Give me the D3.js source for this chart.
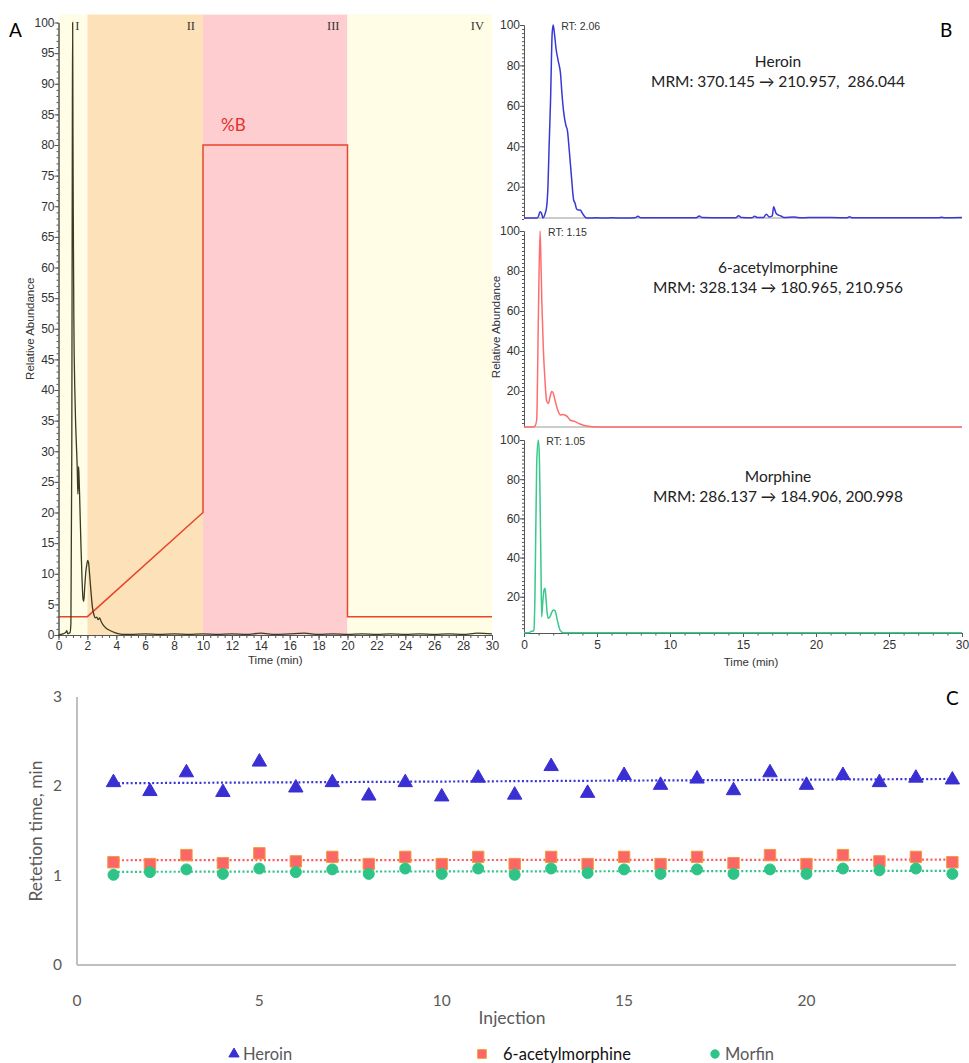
<!DOCTYPE html>
<html>
<head>
<meta charset="utf-8">
<script src="https://cdn.jsdelivr.net/npm/d3@7"></script>
<style>
  body { margin: 0; background: #fff; }
  svg { display: block; }
</style>
</head>
<body>
<div id="chart"></div>
<script>
// ---- panel A : total ion chromatogram + gradient ----
const timeA = [0,0.3,0.5,0.57,0.65,0.8,0.86,0.92,0.96,0.98,1.0,1.02,1.04,1.06,1.09,1.13,1.18,1.24,1.3,1.34,1.37,1.39,1.42,1.47,1.55,1.63,1.7,1.75,1.82,1.9,1.96,2.02,2.08,2.15,2.25,2.35,2.45,2.55,2.65,2.75,2.85,2.95,3.1,3.3,3.6,3.9,4.2,4.6,5,6,7,8,9,10,11,12,13,14,15,16,17,18,19,20,21,22,23,24,25,26,27,28,29,30];
const abundA = [0,0.2,0.4,0.7,0.2,0.4,2,30,85,100,82,70,61,52,45,40,35,31,27,23,25,27.5,26,22,15,9,5.8,5.5,8,10.5,11.5,12.2,11.8,10,7,4.5,3.3,2.8,2.9,2.5,2.8,2.2,1.6,1.1,0.7,0.4,0.2,0.1,0.1,0.2,0.1,0.2,0.1,0.2,0.1,0.2,0.1,0.3,0.1,0.2,0.3,0.1,0.2,0.1,0.2,0.1,0.2,0.1,0.2,0.1,0.2,0.1,0.3,0.2];
const gradT = [0, 2, 10, 10, 20, 20, 30];
const gradB = [3, 3, 20, 80, 80, 3, 3];
const regions = ["I", "II", "III", "IV"];
const regionStart = [0, 2, 10, 20];
const regionEnd = [2, 10, 20, 30];
const regionColors = ["#fffde6", "#fde1b9", "#fdcdcf", "#fffde6"];

// ---- panel B : MRM chromatograms ----
const heroinT = [0,0.9,1.0,1.1,1.2,1.3,1.45,1.55,1.64,1.72,1.82,1.93,2.0,2.08,2.2,2.35,2.5,2.6,2.7,2.88,2.97,3.1,3.25,3.4,3.5,3.6,3.7,3.85,4.0,
  4.3,5,5.5,6,7,7.6,7.8,8.0,10,11.8,12.0,12.2,13.5,14.5,14.7,14.9,15.6,15.8,16.0,16.4,16.6,16.8,17.0,17.1,17.25,17.4,17.6,17.8,18.5,19,20,22.1,22.3,22.5,25,28.4,28.6,28.8,30];
const heroinV = [4.5,4.5,5.5,7.6,6.8,4.5,6.8,10,20,40,63,96,100,96,88,82,76,66,58,50,48,38,25,13.4,11.8,9,8.5,8.5,6.8,
  4.5,4.6,4.5,4.6,4.5,4.6,5.4,4.6,4.6,4.6,5.5,4.7,4.6,4.6,5.6,4.7,4.6,5.4,4.7,4.7,6.3,5,5.5,10.1,7,6,5.5,4.8,5.0,4.6,4.8,4.6,5.1,4.6,4.6,4.6,4.9,4.6,4.7];
const acetylT = [0,0.6,0.75,0.87,0.98,1.1,1.16,1.22,1.32,1.44,1.55,1.67,1.78,1.9,2.0,2.12,2.35,2.5,2.65,2.8,2.97,3.15,3.5,3.84,4.3,5,30];
const acetylV = [2,2,2.5,5.5,55,100,85,65,42,25,15,13.8,17,19.7,19,15.5,9.7,8,8.3,8,7.2,5.5,4.7,3.5,2.5,2,2];
const morphT = [0,0.35,0.5,0.6,0.68,0.75,0.87,0.98,1.05,1.1,1.16,1.21,1.28,1.37,1.44,1.5,1.58,1.67,1.78,1.9,2.01,2.12,2.28,2.47,2.69,30];
const morphV = [1.6,1.6,2.4,2.4,3,20,88,100,92,70,37,9.8,16.7,23.4,24.3,20,12,9,9.8,12,13.2,12.9,8.1,3,1.65,1.6];
const mrmNames = ["Heroin", "6-acetylmorphine", "Morphine"];
const mrmLabels = ["MRM: 370.145 \u2192 210.957,\u00a0 286.044", "MRM: 328.134 \u2192 180.965, 210.956", "MRM: 286.137 \u2192 184.906, 200.998"];
const rtLabels = ["RT: 2.06", "RT: 1.15", "RT: 1.05"];

// ---- panel C : retention time repeatability ----
const injections = d3.range(1, 25);
const heroinRT = [2.06,1.96,2.17,1.95,2.29,2.00,2.06,1.91,2.06,1.90,2.11,1.92,2.24,1.94,2.14,2.03,2.10,1.97,2.17,2.03,2.14,2.06,2.11,2.09];
const acetylRT = [1.15,1.13,1.23,1.14,1.25,1.16,1.21,1.13,1.21,1.13,1.21,1.13,1.21,1.13,1.21,1.13,1.21,1.14,1.23,1.13,1.23,1.16,1.21,1.15];
const morphRT  = [1.01,1.04,1.07,1.02,1.08,1.04,1.07,1.02,1.08,1.02,1.08,1.01,1.08,1.03,1.07,1.02,1.07,1.02,1.07,1.02,1.08,1.06,1.08,1.02];
const seriesNames = ["Heroin", "6-acetylmorphine", "Morfin"];

const width = 969, height = 1063;
const svg = d3.select("#chart").append("svg")
  .attr("width", width)
  .attr("height", height);

const arial = "'Liberation Sans', Arial, sans-serif";
const calibri = "Lato, 'Open Sans', sans-serif";

function styleAxis(g, size) {
  g.attr("font-family", arial).attr("font-size", size);
  g.selectAll("text").attr("fill", "#333");
  g.selectAll("line, path").attr("stroke", "#555");
}

// ================= A =================
const xA = d3.scaleLinear().domain([0, 30]).range([58.5, 492]);
const yA = d3.scaleLinear().domain([0, 100]).range([635, 22.5]);
const gA = svg.append("g");

gA.selectAll(".band")
  .data(regions)
  .enter().append("rect")
  .attr("class", "band")
  .attr("x", (d, i) => xA(regionStart[i]))
  .attr("width", (d, i) => xA(regionEnd[i]) - xA(regionStart[i]))
  .attr("y", yA(101.3))
  .attr("height", yA(0) - yA(101.3))
  .attr("fill", (d, i) => regionColors[i]);

gA.selectAll(".roman")
  .data(regions)
  .enter().append("text")
  .attr("class", "roman")
  .attr("x", (d, i) => xA(regionEnd[i]) - 8)
  .attr("y", yA(100) + 7)
  .attr("text-anchor", "end")
  .attr("font-family", "'Liberation Serif', 'DejaVu Serif', serif")
  .attr("font-size", 12.5)
  .attr("fill", "#333")
  .text(d => d);

// gradient %B
gA.append("path")
  .datum(d3.zip(gradT, gradB))
  .attr("fill", "none")
  .attr("stroke", "#e8452c")
  .attr("stroke-width", 1.5)
  .attr("d", d3.line().x(d => xA(d[0])).y(d => yA(d[1])));

gA.append("text")
  .attr("x", xA(12.1))
  .attr("y", yA(82.3))
  .attr("text-anchor", "middle")
  .attr("font-family", calibri)
  .attr("font-size", 17)
  .attr("fill", "#e3302c")
  .text("%B");

// axes A
let ax = gA.append("g").attr("transform", `translate(${xA(0)},0)`)
  .call(d3.axisLeft(yA).tickValues(d3.range(0, 101, 1)).tickSize(2).tickSizeOuter(0).tickFormat(""));
styleAxis(ax, 12);
ax = gA.append("g").attr("transform", `translate(${xA(0)},0)`)
  .call(d3.axisLeft(yA).tickValues(d3.range(0, 101, 5)).tickSize(4).tickSizeOuter(0).tickPadding(0));
styleAxis(ax, 12);
ax = gA.append("g").attr("transform", `translate(0,${yA(0)})`)
  .call(d3.axisBottom(xA).tickValues(d3.range(0, 30.1, 0.5)).tickSize(3).tickSizeOuter(0).tickFormat(""));
styleAxis(ax, 12);
ax = gA.append("g").attr("transform", `translate(0,${yA(0)})`)
  .call(d3.axisBottom(xA).tickValues(d3.range(0, 31, 2)).tickSize(5).tickSizeOuter(0).tickPadding(1));
styleAxis(ax, 12);

// chromatogram trace
gA.append("path")
  .datum(d3.zip(timeA, abundA))
  .attr("fill", "none")
  .attr("stroke", "#3b3b1f")
  .attr("stroke-width", 1.3)
  .attr("d", d3.line().x(d => xA(d[0])).y(d => yA(d[1])).curve(d3.curveMonotoneX));

gA.append("text")
  .attr("transform", `translate(34,${(yA(0) + yA(100)) / 2}) rotate(-90)`)
  .attr("text-anchor", "middle")
  .attr("font-family", arial).attr("font-size", 11.5).attr("fill", "#333")
  .text("Relative Abundance");
gA.append("text")
  .attr("x", (xA(0) + xA(30)) / 2)
  .attr("y", 664)
  .attr("text-anchor", "middle")
  .attr("font-family", arial).attr("font-size", 11.5).attr("fill", "#333")
  .text("Time (min)");

svg.append("text").attr("x", 9).attr("y", 37)
  .attr("font-family", calibri).attr("font-size", 19).text("A");

// ================= B =================
const xB = d3.scaleLinear().domain([0, 30]).range([524, 962]);
const traces = [[heroinT, heroinV], [acetylT, acetylV], [morphT, morphV]];
const traceColors = ["#3838d6", "#ff6e6e", "#38c98b"];
const panelTop = [25, 231, 440];
const panelBase = [218, 427, 633];
const panelMin = [4.5, 2, 1.5];

traces.forEach(function (tr, k) {
  const y = d3.scaleLinear().domain([panelMin[k], 100]).range([panelBase[k], panelTop[k]]);
  const g = svg.append("g");

  let a = g.append("g").attr("transform", `translate(${xB(0)},0)`)
    .call(d3.axisLeft(y).tickValues(d3.range(4, 101, 2)).tickSize(2).tickSizeOuter(0).tickFormat(""));
  styleAxis(a, 12);
  a = g.append("g").attr("transform", `translate(${xB(0)},0)`)
    .call(d3.axisLeft(y).tickValues([20, 40, 60, 80, 100]).tickSize(4).tickSizeOuter(0).tickPadding(0));
  styleAxis(a, 12);

  if (k === 2) {
    a = g.append("g").attr("transform", `translate(0,${panelBase[k]})`)
      .call(d3.axisBottom(xB).tickValues(d3.range(0, 31, 1)).tickSize(2.5).tickSizeOuter(0).tickFormat(""));
    styleAxis(a, 12);
    a = g.append("g").attr("transform", `translate(0,${panelBase[k]})`)
      .call(d3.axisBottom(xB).tickValues(d3.range(0, 31, 5)).tickSize(4).tickSizeOuter(0).tickPadding(3));
    styleAxis(a, 12);
  } else {
    g.append("line")
      .attr("x1", xB(0)).attr("x2", xB(30))
      .attr("y1", panelBase[k]).attr("y2", panelBase[k])
      .attr("stroke", "#999").attr("stroke-width", 1.2);
  }

  const pts = d3.zip(tr[0], tr[1]);
  g.append("path")
    .datum(pts)
    .attr("fill", "none")
    .attr("stroke", traceColors[k])
    .attr("stroke-width", 1.5)
    .attr("d", d3.line().x(d => xB(d[0])).y(d => y(d[1])).curve(d3.curveMonotoneX));

  const peak = pts[d3.maxIndex(tr[1])];
  g.append("text")
    .attr("x", xB(peak[0]) + 8)
    .attr("y", y(100) + 5)
    .attr("font-family", arial).attr("font-size", 10.5).attr("fill", "#333")
    .text(rtLabels[k]);

  g.append("text")
    .attr("x", 778).attr("y", panelTop[k] + 42)
    .attr("text-anchor", "middle")
    .attr("font-family", calibri).attr("font-size", 15.5).attr("fill", "#222")
    .text(mrmNames[k]);
  g.append("text")
    .attr("x", 778).attr("y", panelTop[k] + 62)
    .attr("text-anchor", "middle")
    .attr("font-family", calibri).attr("font-size", 15.5).attr("fill", "#222")
    .text(mrmLabels[k]);
});

svg.append("text")
  .attr("transform", "translate(500,327) rotate(-90)")
  .attr("text-anchor", "middle")
  .attr("font-family", arial).attr("font-size", 11.5).attr("fill", "#333")
  .text("Relative Abundance");
svg.append("text")
  .attr("x", 751).attr("y", 666)
  .attr("text-anchor", "middle")
  .attr("font-family", arial).attr("font-size", 11.5).attr("fill", "#333")
  .text("Time (min)");
svg.append("text").attr("x", 940).attr("y", 37)
  .attr("font-family", calibri).attr("font-size", 19).text("B");

// ================= C =================
const xC = d3.scaleLinear().domain([0, 24.1]).range([77, 956]);
const yC = d3.scaleLinear().domain([0, 3]).range([965, 697]);
const gC = svg.append("g");
const grey = "#595959";

gC.append("line").attr("x1", xC(0)).attr("x2", xC(0)).attr("y1", yC(0)).attr("y2", yC(3))
  .attr("stroke", "#bfbfbf").attr("stroke-width", 2);
gC.append("line").attr("x1", xC(0)).attr("x2", xC(24.1)).attr("y1", yC(0)).attr("y2", yC(0))
  .attr("stroke", "#bfbfbf").attr("stroke-width", 2);

gC.selectAll(".ytick").data([0, 1, 2, 3]).enter().append("text")
  .attr("x", 62).attr("y", d => yC(d) + 5)
  .attr("text-anchor", "end")
  .attr("font-family", calibri).attr("font-size", 15.5).attr("fill", grey)
  .text(d => d);
gC.selectAll(".xtick").data([0, 5, 10, 15, 20]).enter().append("text")
  .attr("x", d => xC(d)).attr("y", 1006)
  .attr("text-anchor", "middle")
  .attr("font-family", calibri).attr("font-size", 15.5).attr("fill", grey)
  .text(d => d);

gC.append("text")
  .attr("transform", `translate(42,${yC(1.5)}) rotate(-90)`)
  .attr("text-anchor", "middle")
  .attr("font-family", calibri).attr("font-size", 17.5).attr("fill", grey)
  .text("Retetion time, min");
gC.append("text")
  .attr("x", 512).attr("y", 1024)
  .attr("text-anchor", "middle")
  .attr("font-family", calibri).attr("font-size", 17.5).attr("fill", grey)
  .text("Injection");

const rtSeries = [heroinRT, acetylRT, morphRT];
const markFill = ["#3a2fd3", "#fb6766", "#2fc487"];
const markStroke = ["#3a2fd3", "#f59a3a", "#2fc487"];
const trendColor = ["#3d35d8", "#ff5a5a", "#2fc487"];
const symbols = [d3.symbolTriangle, d3.symbolSquare, d3.symbolCircle];
const symSize = [90, 130, 95];

function trend(xs, ys) {
  const mx = d3.mean(xs), my = d3.mean(ys);
  const b = d3.sum(xs, (x, i) => (x - mx) * (ys[i] - my)) / d3.sum(xs, x => (x - mx) * (x - mx));
  return x => my + b * (x - mx);
}

rtSeries.forEach(function (vals, k) {
  const f = trend(injections, vals);
  const ends = d3.extent(injections);
  gC.append("line")
    .attr("x1", xC(ends[0])).attr("x2", xC(ends[1]))
    .attr("y1", yC(f(ends[0]))).attr("y2", yC(f(ends[1])))
    .attr("stroke", trendColor[k])
    .attr("stroke-width", 2.2)
    .attr("stroke-dasharray", "2,2.3");
});

rtSeries.forEach(function (vals, k) {
  gC.selectAll(".m" + k)
    .data(vals)
    .enter().append("path")
    .attr("class", "m" + k)
    .attr("transform", (d, i) => `translate(${xC(injections[i])},${yC(d) + (k === 0 ? 1.5 : 0)})`)
    .attr("d", d3.symbol().type(symbols[k]).size(symSize[k]))
    .attr("fill", markFill[k])
    .attr("stroke", markStroke[k])
    .attr("stroke-width", 1);
});

// legend
const legX = [234, 482, 715];
const legTextX = [243, 503, 725];
const legColor = [grey, "#111", grey];
const legSize = [45, 75, 55];
seriesNames.forEach(function (name, k) {
  svg.append("path")
    .attr("transform", `translate(${legX[k]},1054)`)
    .attr("d", d3.symbol().type(symbols[k]).size(legSize[k]))
    .attr("fill", markFill[k])
    .attr("stroke", markStroke[k]);
  svg.append("text")
    .attr("x", legTextX[k]).attr("y", 1060)
    .attr("font-family", calibri).attr("font-size", 16.5).attr("fill", legColor[k])
    .text(name);
});

svg.append("text").attr("x", 946).attr("y", 705)
  .attr("font-family", calibri).attr("font-size", 19).text("C");
</script>
</body>
</html>
